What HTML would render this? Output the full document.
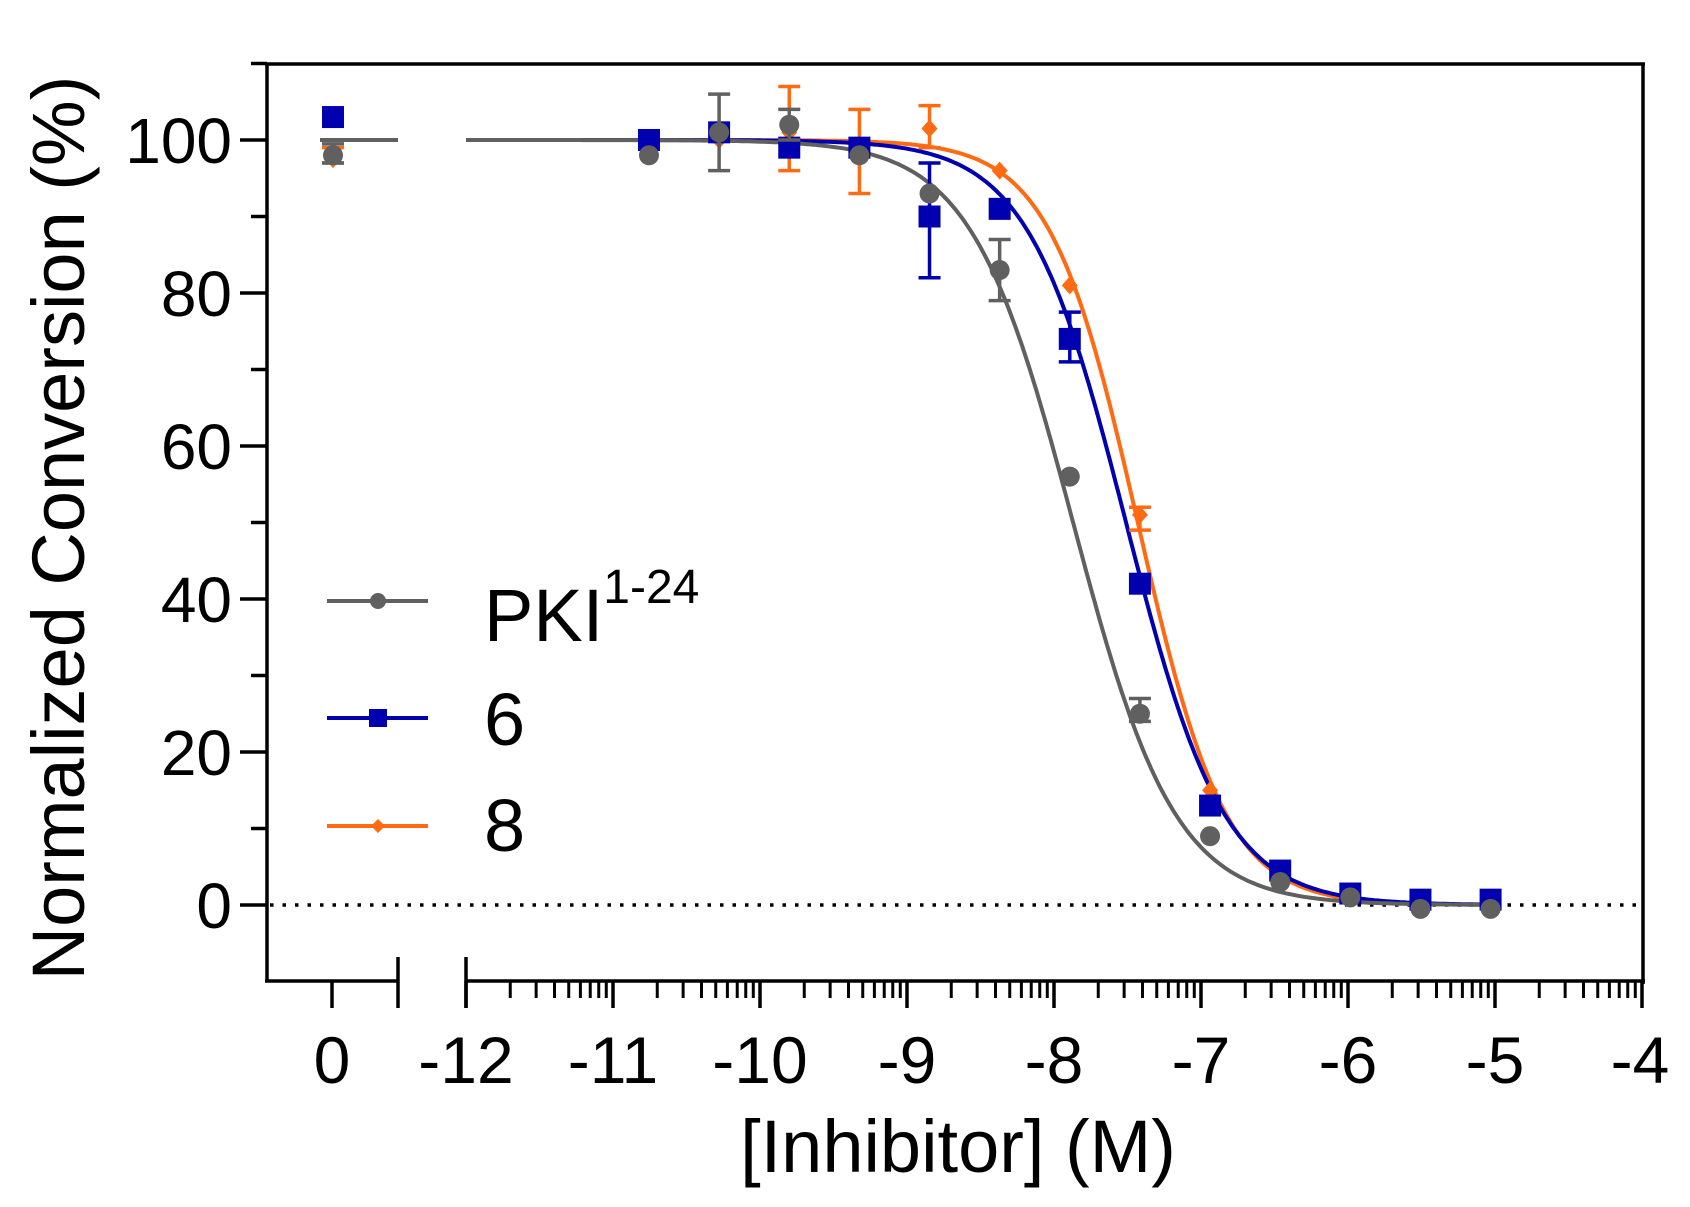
<!DOCTYPE html>
<html><head><meta charset="utf-8"><style>
html,body{margin:0;padding:0;background:#fff;}
svg{display:block;font-family:"Liberation Sans",Arial,sans-serif;}
</style></head><body>
<svg id="s" width="1690" height="1207" viewBox="0 0 1690 1207" xmlns="http://www.w3.org/2000/svg">
<g id="ax" stroke="#000" stroke-width="3.5" fill="none">
<line x1="267" y1="63" x2="267" y2="982"/>
<line x1="265" y1="64" x2="1645" y2="64"/>
<line x1="1643" y1="63" x2="1643" y2="984"/>
<line x1="265" y1="981" x2="398" y2="981"/>
<line x1="466" y1="981" x2="1645" y2="981"/>
<line x1="398" y1="957" x2="398" y2="1008"/>
<line x1="466" y1="957" x2="466" y2="1008"/>
<line x1="332" y1="981" x2="332" y2="1008"/>
</g>
<line x1="270" y1="905" x2="1643" y2="905" stroke="#000" stroke-width="3.5" stroke-dasharray="3.5,9"/>
<g font-size="64" text-anchor="end" fill="#000">
<text x="232" y="163">100</text><text x="232" y="316">80</text><text x="232" y="469">60</text>
<text x="232" y="622">40</text><text x="232" y="775">20</text><text x="232" y="928">0</text>
</g>
<g font-size="66" text-anchor="middle" fill="#000">
<text x="332" y="1083">0</text><text x="466" y="1083">-12</text><text x="613" y="1083">-11</text>
<text x="760" y="1083">-10</text><text x="907" y="1083">-9</text><text x="1054" y="1083">-8</text>
<text x="1201" y="1083">-7</text><text x="1348" y="1083">-6</text><text x="1495" y="1083">-5</text>
<text x="1640" y="1083">-4</text>
</g>
<text x="958" y="1172" font-size="74" text-anchor="middle">[Inhibitor] (M)</text>
<text transform="translate(84,528) rotate(-90)" font-size="74" text-anchor="middle">Normalized Conversion (%)</text>
<g id="legend">
<line x1="327" y1="601" x2="428" y2="601" stroke="#606060" stroke-width="4"/>
<circle cx="378" cy="601" r="8" fill="#606060"/>
<line x1="327" y1="718" x2="428" y2="718" stroke="#0000b0" stroke-width="4"/>
<rect x="369" y="709" width="18" height="18" fill="#0000b0"/>
<line x1="327" y1="826" x2="428" y2="826" stroke="#ff6a13" stroke-width="4"/>
<polygon points="378,819 385,826 378,833 371,826" fill="#ff6a13"/>
<text x="484" y="641" font-size="74">PKI<tspan font-size="48" dy="-38">1-24</tspan></text>
<text x="484" y="745" font-size="74">6</text>
<text x="484" y="851" font-size="74">8</text>
</g>
<g id="plot"></g>
</svg>
<script>
(function(){
var NS="http://www.w3.org/2000/svg";
var ax=document.getElementById('ax'),plot=document.getElementById('plot');
function el(n,a,p){var e=document.createElementNS(NS,n);for(var k in a)e.setAttribute(k,a[k]);(p||plot).appendChild(e);return e;}
function X(l){return 466+(l+12)*147;}
function Y(v){return 905-v*7.65;}
for(var v=-10;v<=110;v+=10){if(v==-10)continue;var maj=(v%20==0);el('line',{x1:maj?240:251,y1:Y(v),x2:267,y2:Y(v)},ax);}
for(var d=-12;d<=-4;d++){el('line',{x1:X(d),y1:981,x2:X(d),y2:1008},ax);
 if(d<-4)for(var m=2;m<=9;m++){var x=X(d+Math.log10(m));el('line',{x1:x,y1:981,x2:x,y2:998,'stroke-width':3},ax);}}
var xs=[];for(var k=12;k>=0;k--)xs.push(-5.03-k*0.4771);
var S=[
 {c:'#606060',ic:-7.87,n:1.25,m:'c',v:[98,101,102,98,93,83,56,25,9,3,1,-0.5,-0.5],
  e:{1:[96,106],2:[100,104],5:[79,87],7:[24,27]},z:98,ze:[97,99.5]},
 {c:'#0000b0',ic:-7.51,n:1.3,m:'s',v:[100,101,99,99,90,91,74,42,13,4.5,1.5,0.7,0.7],
  e:{0:[99,101],4:[82,97],6:[71,77.5]},z:103},
 {c:'#ff6a13',ic:-7.43,n:1.45,m:'d',v:[99,100,101,99,101.5,96,81,51,15,4,1.5,0.5,0],
  e:{2:[96,107],3:[93,104],4:[99,104.5],7:[49,52]},z:97.5,ze:[97,99]}
];
function f(s,l){return 100/(1+Math.pow(10,(l-s.ic)*s.n));}
el('line',{x1:320,y1:Y(100),x2:398,y2:Y(100),stroke:'#606060','stroke-width':4});
[2,1,0].forEach(function(i){var s=S[i];var d='';
 for(var l=-12;l<=-5.03;l+=0.02){d+=(d?'L':'M')+X(l).toFixed(1)+','+Y(f(s,l)).toFixed(1);}
 el('path',{d:d,fill:'none',stroke:s.c,'stroke-width':4});});
function mark(s,x,y){
 if(s.m=='c')el('circle',{cx:x,cy:y,r:10,fill:s.c});
 else if(s.m=='s')el('rect',{x:x-11,y:y-11,width:22,height:22,fill:s.c});
 else el('polygon',{points:(x)+','+(y-9)+' '+(x+8)+','+y+' '+x+','+(y+9)+' '+(x-8)+','+y,fill:s.c});}
function bar(s,x,lo,hi){el('line',{x1:x,y1:Y(lo),x2:x,y2:Y(hi),stroke:s.c,'stroke-width':3.5});
 el('line',{x1:x-11,y1:Y(lo),x2:x+11,y2:Y(lo),stroke:s.c,'stroke-width':3.5});
 el('line',{x1:x-11,y1:Y(hi),x2:x+11,y2:Y(hi),stroke:s.c,'stroke-width':3.5});}
[2,1,0].forEach(function(i){var s=S[i];
 for(var k in s.e)bar(s,X(xs[k]),s.e[k][0],s.e[k][1]);
 if(s.ze)bar(s,333,s.ze[0],s.ze[1]);
 s.v.forEach(function(v,j){mark(s,X(xs[j]),Y(v));});
 mark(s,333,Y(s.z));});
})();
</script>
</body></html>
